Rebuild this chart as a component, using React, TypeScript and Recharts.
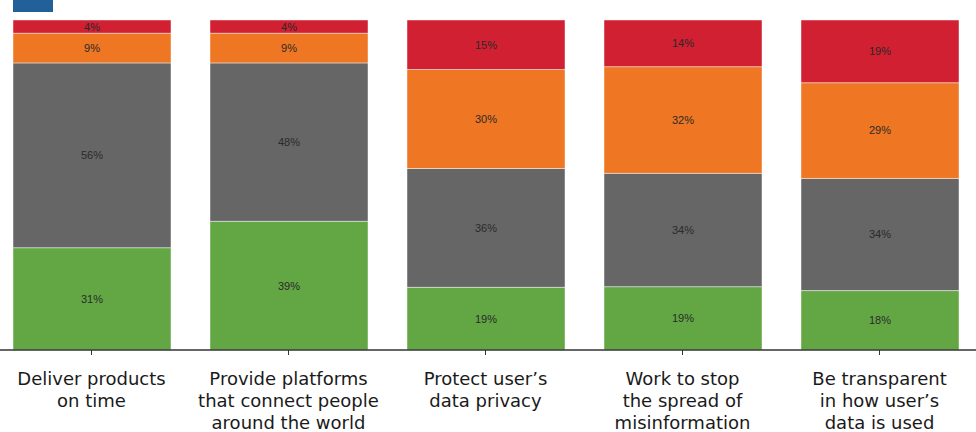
import { BarChart, Bar, XAxis, YAxis, LabelList } from 'recharts';

const categories = [
  'Deliver products\non time',
  'Provide platforms\nthat connect people\naround the world',
  'Protect user’s\ndata privacy',
  'Work to stop\nthe spread of\nmisinformation',
  'Be transparent\nin how user’s\ndata is used',
];
const greenValues = [31, 39, 19, 19, 18];
const greyValues = [56, 48, 36, 34, 34];
const orangeValues = [9, 9, 30, 32, 29];
const redValues = [4, 4, 15, 14, 19];

const data = categories.map((name, i) => ({
  name,
  green: greenValues[i],
  grey: greyValues[i],
  orange: orangeValues[i],
  red: redValues[i],
}));

const SERIES = [
  { key: 'green', color: '#62a744' },
  { key: 'grey', color: '#666666' },
  { key: 'orange', color: '#ef7622' },
  { key: 'red', color: '#d12031' },
];

const CategoryTick = (props: any) => {
  const { x, y, payload } = props;
  const lines = String(payload.value).split('\n');
  return (
    <text
      x={x}
      y={y + 28}
      textAnchor="middle"
      fill="#1a1a1a"
      fontSize={18}
      fontFamily="'DejaVu Sans', sans-serif"
    >
      {lines.map((line, i) => (
        <tspan key={i} x={x} dy={i === 0 ? 0 : 22}>
          {line}
        </tspan>
      ))}
    </text>
  );
};

function App() {
  return (
    <div
      style={{
        position: 'absolute',
        left: 0,
        top: 0,
        width: 976,
        height: 432,
        overflow: 'hidden',
        background: '#fff',
      }}
    >
      <div
        style={{
          position: 'absolute',
          left: 13,
          top: 0,
          width: 40,
          height: 12,
          background: '#22609a',
        }}
      />
      <div style={{ position: 'absolute', left: -7, top: 0 }}>
        <BarChart
          width={985}
          height={432}
          data={data}
          stackOffset="expand"
          margin={{ top: 20, right: 0, bottom: 0, left: 0 }}
        >
          <XAxis
            dataKey="name"
            height={82}
            interval={0}
            tick={<CategoryTick />}
            tickSize={5}
            axisLine={{ stroke: '#333', strokeWidth: 1.5 }}
            tickLine={{ stroke: '#333' }}
          />
          <YAxis hide />
          {SERIES.map((s) => (
            <Bar
              key={s.key}
              dataKey={s.key}
              stackId="a"
              fill={s.color}
              barSize={158}
              stroke="#ffffff"
              strokeOpacity={0.45}
              strokeWidth={1}
              isAnimationActive={false}
            >
              <LabelList
                dataKey={s.key}
                position="center"
                formatter={(v: any) => `${v}%`}
                fill="#2a2a2a"
                fontSize={11}
                fontFamily="'Liberation Sans', Arial, sans-serif"
              />
            </Bar>
          ))}
        </BarChart>
      </div>
    </div>
  );
}

export default App;
